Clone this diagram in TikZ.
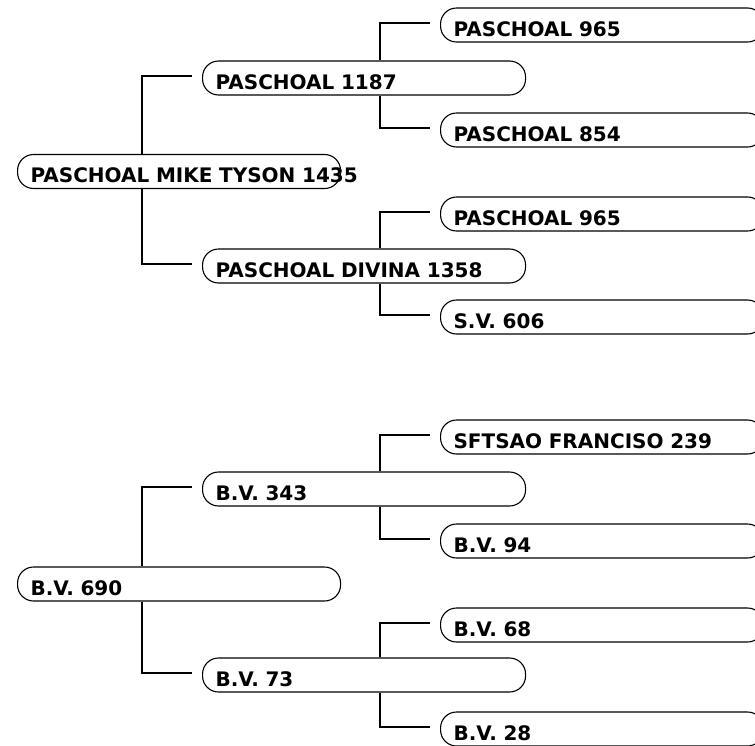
\documentclass[tikz,border=0pt]{standalone}
\usepackage{fontspec}
\setmainfont[WordSpace=0.6]{DejaVu Sans}

\begin{document}
\begin{tikzpicture}[x=1pt,y=-1pt,
	box/.style={draw,line width=1.1pt,rounded corners=16pt,anchor=west,
		text width=297pt,inner xsep=13pt,inner ysep=0pt,minimum height=34pt,
		text height=22pt,text depth=0pt,align=left,
		font=\fontsize{20}{22}\selectfont\bfseries},
	link/.style={line width=1.1pt}]
	\useasboundingbox (0,0) rectangle (755,745);

	% premier arbre
	\node[box] (tyson) at (17,171.5) {\mbox{PASCHOAL MIKE TYSON 1435}};
	\node[box] (p1187) at (202,78) {PASCHOAL 1187};
	\node[box] (divina) at (202,266) {PASCHOAL DIVINA 1358};
	\node[box] (p965a) at (440,25) {PASCHOAL 965};
	\node[box] (p854) at (440,130) {PASCHOAL 854};
	\node[box] (p965b) at (440,214) {PASCHOAL 965};
	\node[box] (sv606) at (440,317) {S.V. 606};

	% second arbre
	\node[box] (bv690) at (17,584) {B.V. 690};
	\node[box] (bv343) at (202,489) {B.V. 343};
	\node[box] (bv73) at (202,675) {B.V. 73};
	\node[box] (sft239) at (440,437) {SFTSAO FRANCISO 239};
	\node[box] (bv94) at (440,541) {B.V. 94};
	\node[box] (bv68) at (440,625) {B.V. 68};
	\node[box] (bv28) at (440,729) {B.V. 28};

	\foreach \p/\c/\s in {tyson/p1187/north,tyson/divina/south,
		p1187/p965a/north,p1187/p854/south,divina/p965b/north,divina/sv606/south,
		bv690/bv343/north,bv690/bv73/south,
		bv343/sft239/north,bv343/bv94/south,bv73/bv68/north,bv73/bv28/south}
		\draw[link] ([xshift=-60pt]\c.west |- \p.\s) -- ([xshift=-60pt,yshift=2pt]\c.west)
			-- ([xshift=-10pt,yshift=2pt]\c.west);
\end{tikzpicture}
\end{document}
